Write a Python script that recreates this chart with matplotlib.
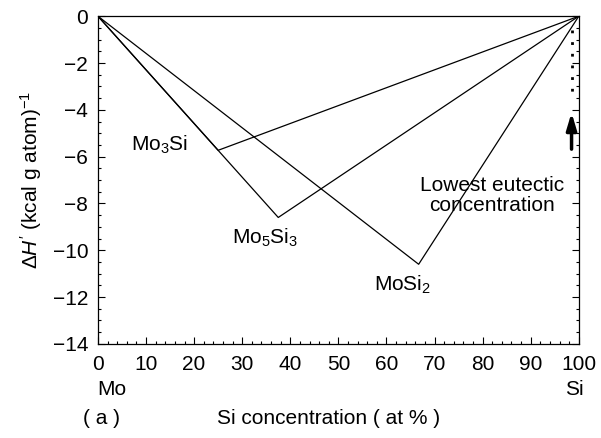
import matplotlib.pyplot as plt
from matplotlib.ticker import MultipleLocator

plt.rcParams['font.family'] = ['Liberation Sans', 'DejaVu Sans']
plt.rcParams['mathtext.fontset'] = 'custom'
plt.rcParams['mathtext.rm'] = 'Liberation Sans'
plt.rcParams['mathtext.it'] = 'Liberation Sans:italic'

# compuestos: concentracion de Si (at %) y entalpia de formacion
compuestos = ['Mo$_3$Si', 'Mo$_5$Si$_3$', 'MoSi$_2$']
si_at = [25, 37.5, 66.7]
delta_h = [-5.73, -8.6, -10.6]

# concentracion eutectica mas baja
x_eutectico = 98.5

fig = plt.figure(figsize=(6.01, 4.38), dpi=100)
ax = fig.add_axes([0.163, 0.215, 0.800, 0.748])

for x, h in zip(si_at, delta_h):
    ax.plot([0, x, 100], [0, h, 0], color='black', lw=0.9)

ax.plot([x_eutectico, x_eutectico], [-0.6, -3.5], ls=(0, (1, 3.2)), color='black', lw=2)
ax.annotate('', xy=(x_eutectico, -4.0), xytext=(x_eutectico, -5.8),
            arrowprops=dict(arrowstyle='-|>,head_width=0.3,head_length=1.0',
                            color='black', lw=2.5))

fs = 15
ax.text(12.9, -5.5, compuestos[0], fontsize=fs, ha='center', va='center')
ax.text(34.7, -9.45, compuestos[1], fontsize=fs, ha='center', va='center')
ax.text(63.4, -11.5, compuestos[2], fontsize=fs, ha='center', va='center')
ax.text(82, -7.65, 'Lowest eutectic\nconcentration', fontsize=fs,
        ha='center', va='center', linespacing=1.05)

ax.set_xlim(0, 100)
ax.set_ylim(-14, 0)
ax.xaxis.set_major_locator(MultipleLocator(10))
ax.xaxis.set_minor_locator(MultipleLocator(2))
ax.yaxis.set_major_locator(MultipleLocator(2))
ax.yaxis.set_minor_locator(MultipleLocator(0.5))
ax.tick_params(which='both', direction='in', labelsize=fs, width=0.8,
               top=False, right=True)
ax.tick_params(which='major', length=5)
ax.tick_params(which='minor', length=2.5)
ax.tick_params(axis='x', which='major', pad=8)
ax.tick_params(axis='y', which='major', pad=7)
ax.set_ylabel("$\\Delta H'$ (kcal g atom)$^{-1}$", fontsize=fs, labelpad=6)
for s in ax.spines.values():
    s.set_linewidth(0.9)

fig.text(0.161, 0.11, 'Mo', fontsize=fs, ha='left', va='center')
fig.text(0.971, 0.11, 'Si', fontsize=fs, ha='right', va='center')
fig.text(0.138, 0.045, '( a )', fontsize=fs, ha='left', va='center')
fig.text(0.547, 0.045, 'Si concentration ( at % )', fontsize=fs, ha='center', va='center')

fig.savefig('out.png', dpi=100)
